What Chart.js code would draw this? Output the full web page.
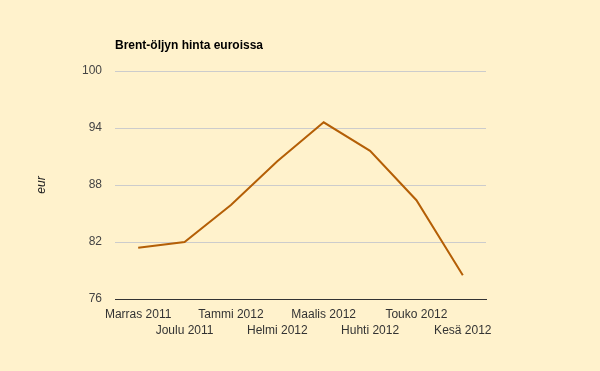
<!DOCTYPE html>
<html>
<head>
<meta charset="utf-8">
<script src="https://cdn.jsdelivr.net/npm/chart.js@4"></script>
<style>
  html, body { margin: 0; padding: 0; background: #FFF2CC; }
  canvas { display: block; }
</style>
</head>
<body>
<canvas id="c" width="600" height="371"></canvas>
<script>
const categories = ['Marras 2011', 'Joulu 2011', 'Tammi 2012', 'Helmi 2012', 'Maalis 2012', 'Huhti 2012', 'Touko 2012', 'Kesä 2012'];
const brentEur = [81.4, 82.0, 85.9, 90.5, 94.6, 91.6, 86.4, 78.5];
const yTicks = [76, 82, 88, 94, 100];
const chartTitle = 'Brent-öljyn hinta euroissa';
const yAxisTitle = 'eur';

const FONT = '"Liberation Sans", Arial, sans-serif';

const titlePlugin = {
  id: 'leftTitle',
  afterDraw(chart) {
    const ctx = chart.ctx;
    ctx.save();
    ctx.font = 'bold 12px ' + FONT;
    ctx.fillStyle = '#000';
    ctx.textAlign = 'left';
    ctx.textBaseline = 'middle';
    ctx.fillText(chartTitle, chart.chartArea.left, 46);
    ctx.restore();
  }
};

new Chart(document.getElementById('c'), {
  type: 'line',
  data: {
    labels: categories,
    datasets: [{
      data: brentEur,
      borderColor: '#B45F06',
      borderWidth: 2,
      pointRadius: 0,
      tension: 0,
      fill: false
    }]
  },
  options: {
    responsive: false,
    animation: false,
    layout: { padding: { left: 30, top: 71, right: 114, bottom: 30 } },
    plugins: { legend: { display: false }, tooltip: { enabled: false } },
    scales: {
      x: {
        offset: true,
        grid: { display: false, drawTicks: false },
        border: { display: true, color: '#333', width: 1 },
        ticks: {
          autoSkip: false,
          maxRotation: 0,
          minRotation: 0,
          padding: 8,
          color: '#333',
          font: { family: FONT, size: 12, lineHeight: 1.3 },
          callback: function(v, i) {
            const l = categories[i];
            return i % 2 === 0 ? [l] : ['', l];
          }
        },
        afterFit(scale) { scale.height = 42; }
      },
      y: {
        min: 76,
        max: 100,
        afterBuildTicks(scale) { scale.ticks = yTicks.map(v => ({ value: v })); },
        grid: {
          drawTicks: false,
          color: ctx => ctx.tick && ctx.tick.value === 76 ? '#333' : '#ccc',
          lineWidth: 1
        },
        border: { display: false },
        ticks: {
          padding: 13,
          color: '#444',
          font: { family: FONT, size: 12 }
        },
        title: {
          display: true,
          text: yAxisTitle,
          color: '#222',
          font: { family: FONT, size: 12, style: 'italic' },
          padding: { top: 4, bottom: 4 }
        },
        afterFit(scale) { scale.width = 85; }
      }
    }
  },
  plugins: [titlePlugin]
});
</script>
</body>
</html>
